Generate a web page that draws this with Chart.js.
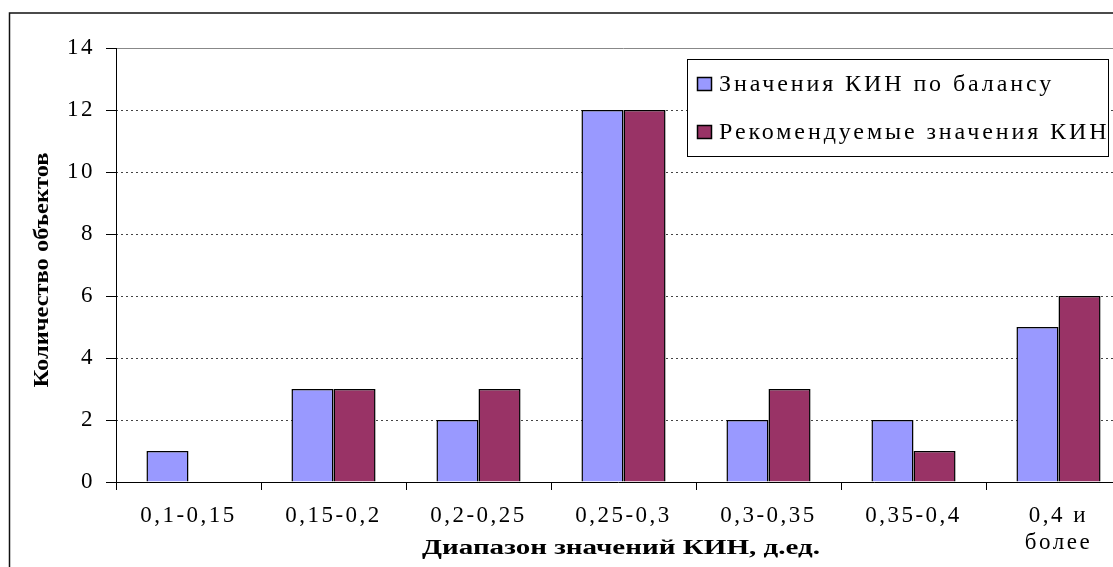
<!DOCTYPE html>
<html>
<head>
<meta charset="utf-8">
<script src="https://cdn.jsdelivr.net/npm/chart.js@4/dist/chart.umd.min.js"></script>
<style>
  html, body { margin: 0; padding: 0; background: #fff; overflow: hidden; }
  #wrap { width: 1140px; height: 567px; }
</style>
</head>
<body>
<div id="wrap"><canvas id="c" width="1140" height="567"></canvas></div>
<script>
const categories = ['0,1-0,15', '0,15-0,2', '0,2-0,25', '0,25-0,3', '0,3-0,35', '0,35-0,4', ['0,4 и', 'более']];
const balanceValues = [1, 3, 2, 12, 2, 2, 5];
const recommendedValues = [0, 3, 3, 12, 3, 1, 6];
const seriesNames = ['Значения КИН по балансу', 'Рекомендуемые значения КИН'];
const yTicks = [0, 2, 4, 6, 8, 10, 12, 14];
const xTitle = 'Диапазон значений КИН, д.ед.';
const yTitle = 'Количество объектов';

const SERIF = "'Liberation Serif', 'Times New Roman', serif";
const SPACING = '2.5px';

const decor = {
  id: 'decor',
  beforeLayout(chart) { chart.ctx.letterSpacing = SPACING; },
  beforeDraw(chart) {
    const ctx = chart.ctx;
    ctx.letterSpacing = SPACING;
    ctx.save();
    ctx.fillStyle = '#fff';
    ctx.fillRect(0, 0, chart.width, chart.height);
    ctx.strokeStyle = '#111';
    ctx.lineWidth = 1.5;
    ctx.beginPath();
    ctx.moveTo(9.5, 600);
    ctx.lineTo(9.5, 13);
    ctx.lineTo(1200, 13);
    ctx.stroke();
    ctx.restore();
  },
  afterDraw(chart) {
    const ctx = chart.ctx;
    const a = chart.chartArea;
    ctx.save();
    // axis lines
    ctx.strokeStyle = '#000';
    ctx.lineWidth = 1;
    ctx.setLineDash([]);
    ctx.beginPath();
    ctx.moveTo(a.left + 0.5, a.top);
    ctx.lineTo(a.left + 0.5, a.bottom + 8);
    ctx.moveTo(a.left - 10, a.bottom + 0.5);
    ctx.lineTo(a.right, a.bottom + 0.5);
    ctx.stroke();

    // legend
    const lx = 687.5, ly = 59.5, lw = 421, lh = 97;
    ctx.fillStyle = '#fff';
    ctx.fillRect(lx, ly, lw, lh);
    ctx.strokeStyle = '#000';
    ctx.lineWidth = 1;
    ctx.strokeRect(lx, ly, lw, lh);
    ctx.letterSpacing = '2.9px';
    ctx.font = '24px ' + SERIF;
    ctx.textBaseline = 'middle';
    ctx.textAlign = 'left';
    const rows = [84, 132];
    chart.data.datasets.forEach((ds, i) => {
      const cy = rows[i];
      ctx.fillStyle = ds.backgroundColor;
      ctx.fillRect(697.5, cy - 6.5, 14, 13);
      ctx.strokeStyle = '#000';
      ctx.lineWidth = 1.5;
      ctx.strokeRect(697.5, cy - 6.5, 14, 13);
      ctx.fillStyle = '#000';
      ctx.fillText(ds.label, 719, cy + 1);
    });

    // x title
    ctx.letterSpacing = '0px';
    ctx.font = 'bold 20px ' + SERIF;
    ctx.textAlign = 'center';
    ctx.textBaseline = 'alphabetic';
    let w = ctx.measureText(xTitle).width;
    ctx.save();
    ctx.translate(621, 554);
    ctx.scale(398 / w, 1);
    ctx.fillText(xTitle, 0, 0);
    ctx.restore();

    // y title
    ctx.font = 'bold 21px ' + SERIF;
    w = ctx.measureText(yTitle).width;
    ctx.save();
    ctx.translate(48, 270);
    ctx.rotate(-Math.PI / 2);
    ctx.scale(235 / w, 1);
    ctx.fillText(yTitle, 0, 0);
    ctx.restore();

    ctx.restore();
    ctx.letterSpacing = SPACING;
  }
};

new Chart(document.getElementById('c'), {
  type: 'bar',
  data: {
    labels: categories,
    datasets: [
      { label: seriesNames[0], data: balanceValues, backgroundColor: '#9999FF', borderColor: '#000', borderWidth: 1.5 },
      { label: seriesNames[1], data: recommendedValues, backgroundColor: '#993366', borderColor: '#000', borderWidth: 1.5 }
    ]
  },
  options: {
    responsive: false,
    animation: false,
    devicePixelRatio: 1,
    layout: { padding: { left: 0, top: 48, right: 9, bottom: 0 } },
    plugins: { legend: { display: false }, tooltip: { enabled: false } },
    datasets: { bar: { categoryPercentage: 0.58, barPercentage: 1 } },
    scales: {
      x: {
        afterFit(s) { s.height = 85; },
        grid: { display: true, drawOnChartArea: false, offset: true, tickLength: 8, tickColor: '#000', tickWidth: 1 },
        border: { display: false },
        ticks: { color: '#000', font: { family: SERIF, size: 23 }, padding: 12, maxRotation: 0, autoSkip: false }
      },
      y: {
        min: 0, max: 14,
        afterFit(s) { s.width = 116; },
        afterBuildTicks(s) { s.ticks = yTicks.map(v => ({ value: v })); },
        grid: {
          color: (c) => (c.tick && c.tick.value === 14) ? '#888' : '#444',
          lineWidth: 1, tickLength: 10, tickColor: '#000', tickWidth: 1, tickBorderDash: []
        },
        border: { display: false, dash: (c) => (c.tick && c.tick.value === 14) ? [] : [2, 3] },
        ticks: { color: '#000', font: { family: SERIF, size: 23 }, padding: 11 }
      }
    }
  },
  plugins: [decor]
});
</script>
</body>
</html>
